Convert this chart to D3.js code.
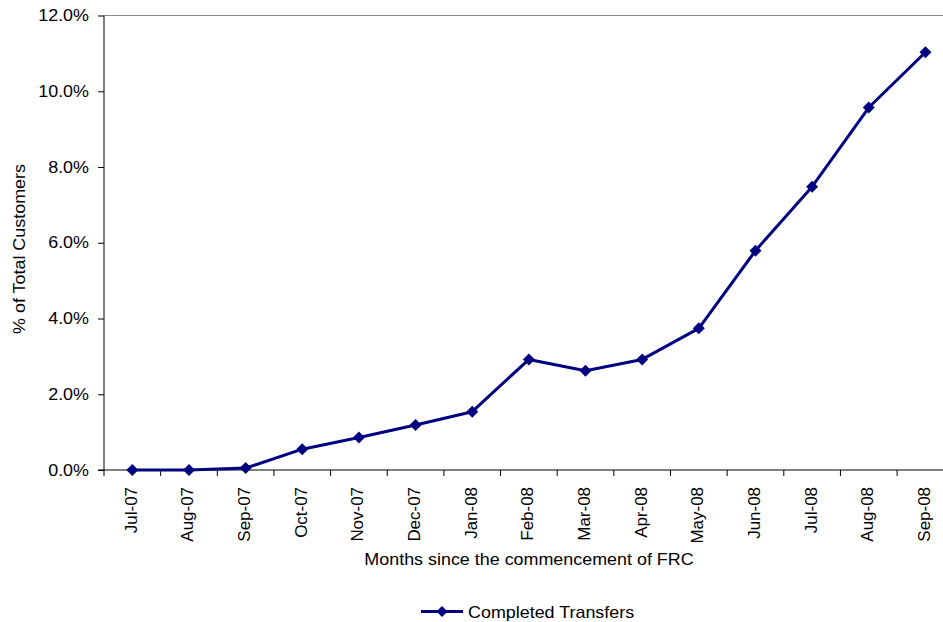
<!DOCTYPE html>
<html>
<head>
<meta charset="utf-8">
<script src="https://cdn.jsdelivr.net/npm/d3@7"></script>
<style>
  html, body { margin: 0; padding: 0; background: #fff; }
  svg { display: block; font-family: "Liberation Sans", Arial, sans-serif; }
</style>
</head>
<body>
<svg id="chart" width="943" height="622"></svg>
<script>
// Monthly categories since commencement of FRC
const months = ["Jul-07","Aug-07","Sep-07","Oct-07","Nov-07","Dec-07","Jan-08",
                "Feb-08","Mar-08","Apr-08","May-08","Jun-08","Jul-08","Aug-08","Sep-08"];
// Completed transfers, % of total customers
const completedTransfers = [0.0, 0.0, 0.05, 0.55, 0.86, 1.19, 1.54,
                            2.92, 2.62, 2.92, 3.74, 5.79, 7.48, 9.57, 11.03];
const yTicks = [0, 2, 4, 6, 8, 10, 12];
const seriesName = "Completed Transfers";

(function () {
  const svg = d3.select("#chart");
  const plotLeft = 104, plotTop = 15.5, plotBottom = 470, plotRight = 104 + 15 * 56.65;
  const navy = "#000080";
  const fs = 16, stretch = 1.12;

  const x = d3.scaleBand().domain(months).range([plotLeft, plotRight]).padding(0);
  const y = d3.scaleLinear().domain([0, 12]).range([plotBottom, plotTop]);

  // plot area top border
  svg.append("line")
    .attr("x1", plotLeft).attr("x2", plotRight)
    .attr("y1", y(12)).attr("y2", y(12))
    .attr("stroke", "#888").attr("stroke-width", 1);

  // y axis
  const yAxis = svg.append("g")
    .attr("transform", `translate(${plotLeft},0)`)
    .call(d3.axisLeft(y).tickValues(yTicks).tickSize(6)
          .tickFormat(d => d.toFixed(1) + "%"));
  yAxis.select(".domain").attr("stroke", "#000").attr("d", `M0,${y(12)}V${plotBottom}`);
  yAxis.selectAll(".tick line").attr("stroke", "#000");
  yAxis.selectAll(".tick text")
    .attr("x", 0)
    .attr("transform", `translate(-15,0) scale(${stretch},1)`)
    .attr("font-size", fs).attr("fill", "#000")
    .attr("font-family", "Liberation Sans, Arial, sans-serif");

  // x axis with ticks between categories
  const xAxis = svg.append("g").attr("transform", `translate(0,${plotBottom})`);
  xAxis.append("line").attr("x1", plotLeft - 6).attr("x2", plotRight)
    .attr("stroke", "#000").attr("stroke-width", 1);
  xAxis.selectAll("line.tk").data(months.concat(["__end"]))
    .join("line").attr("class", "tk")
    .attr("x1", (d, i) => plotLeft + i * x.step()).attr("x2", (d, i) => plotLeft + i * x.step())
    .attr("y1", 0).attr("y2", 6)
    .attr("stroke", "#000");
  xAxis.selectAll("text").data(months).join("text")
    .attr("transform", d => `translate(${x(d) + x.bandwidth() / 2 + 4.5},17) rotate(-90) scale(1.06,1)`)
    .attr("text-anchor", "end")
    .attr("font-size", fs)
    .attr("fill", "#000")
    .text(d => d);

  // axis titles
  svg.append("text")
    .attr("transform", `translate(529,565) scale(${stretch},1)`)
    .attr("text-anchor", "middle").attr("font-size", fs).attr("fill", "#000")
    .text("Months since the commencement of FRC");
  svg.append("text")
    .attr("transform", `translate(25,${(161 + 337) / 2}) rotate(-90) scale(${stretch},1)`)
    .attr("text-anchor", "middle").attr("font-size", fs).attr("fill", "#000")
    .text("% of Total Customers");

  // series line and diamond markers
  const pts = months.map((m, i) => ({ m, v: completedTransfers[i] }));
  const cx = d => x(d.m) + x.bandwidth() / 2;
  svg.append("path")
    .datum(pts)
    .attr("fill", "none").attr("stroke", navy).attr("stroke-width", 3)
    .attr("stroke-linejoin", "round")
    .attr("d", d3.line().x(cx).y(d => y(d.v)));

  svg.selectAll("path.mk").data(pts).join("path")
    .attr("class", "mk")
    .attr("transform", d => `translate(${cx(d)},${y(d.v)}) rotate(45)`)
    .attr("d", d3.symbol().type(d3.symbolSquare).size(72))
    .attr("fill", navy);

  // legend
  const lg = svg.append("g").attr("transform", "translate(421,611.5)");
  lg.append("line").attr("x1", 0).attr("x2", 42).attr("y1", 0).attr("y2", 0)
    .attr("stroke", navy).attr("stroke-width", 3);
  lg.append("path").attr("transform", "translate(21,0) rotate(45)")
    .attr("d", d3.symbol().type(d3.symbolSquare).size(60)).attr("fill", navy);
  lg.append("text").attr("transform", `translate(47,6) scale(${stretch},1)`)
    .attr("font-size", fs).attr("fill", "#000").text(seriesName);
})();
</script>
</body>
</html>
